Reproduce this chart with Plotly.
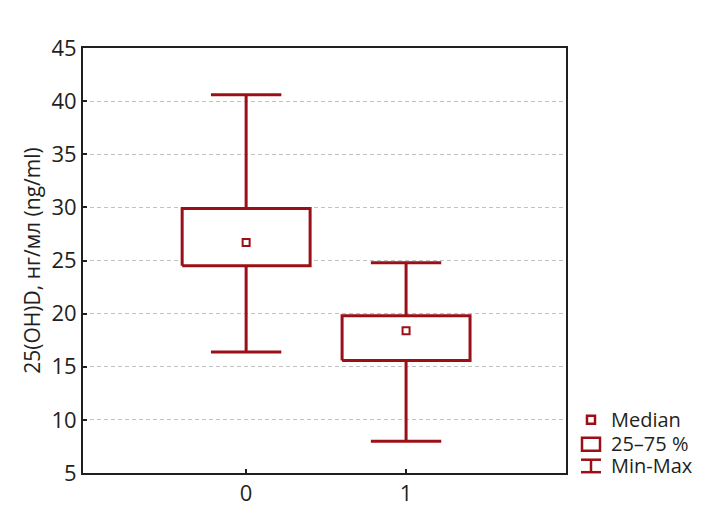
import plotly.graph_objects as go

# ---- data ----
groups = [0, 1]
mins = [16.4, 8.0]
q1s = [24.5, 15.6]
medians = [26.7, 18.4]
q3s = [29.9, 19.8]
maxs = [40.6, 24.8]
y_ticks = [5, 10, 15, 20, 25, 30, 35, 40, 45]
legend_labels = ["Median", "25\u201375 %", "Min-Max"]

RED = "#9b1016"
DARK = "#231f20"
FONT = "Open Sans"

# the page body has an 8px margin
OFF = 8
W, H = 707, 506
L, T = 83 - OFF, 48 - OFF
PW, PH = 483, 425.3
R = W - L - PW
B = H - T - PH

box_w = 0.8
cap_w = 0.44

# Build line paths from the data
bx, by = [], []
wx, wy = [], []
for g, lo, a, b, hi in zip(groups, mins, q1s, q3s, maxs):
    bx += [g - box_w / 2, g + box_w / 2, g + box_w / 2, g - box_w / 2, g - box_w / 2, None]
    by += [a, a, b, b, a, None]
    wx += [g, g, None, g, g, None]
    wy += [b, hi, None, a, lo, None]
    wx += [g - cap_w / 2, g + cap_w / 2, None, g - cap_w / 2, g + cap_w / 2, None]
    wy += [hi, hi, None, lo, lo, None]

fig = go.Figure()
fig.add_trace(go.Scatter(x=wx, y=wy, mode="lines", line=dict(color=RED, width=3),
                         showlegend=False, hoverinfo="skip"))
fig.add_trace(go.Scatter(x=bx, y=by, mode="lines", line=dict(color=RED, width=3),
                         fill="toself", fillcolor="white",
                         showlegend=False, hoverinfo="skip"))
fig.add_trace(go.Scatter(x=groups, y=medians, mode="markers",
                         marker=dict(symbol="square", size=7, color="white",
                                     line=dict(color=RED, width=2)),
                         showlegend=False))

# convert page pixel coordinates to paper coordinates
def px_x(x):
    return (x - OFF - L) / PW

def px_y(y):
    return (T + PH - (y - OFF)) / PH

shapes = []
shapes.append(dict(type="rect", xref="paper", yref="paper",
                   x0=px_x(587), x1=px_x(595), y0=px_y(416), y1=px_y(424),
                   line=dict(color=RED, width=2.5), fillcolor="white"))
shapes.append(dict(type="rect", xref="paper", yref="paper",
                   x0=px_x(582), x1=px_x(600), y0=px_y(438), y1=px_y(451),
                   line=dict(color=RED, width=2.5), fillcolor="white"))
for (x0, y0, x1, y1) in [(581, 460, 601, 460), (581, 472.5, 601, 472.5), (591, 460, 591, 472.5)]:
    shapes.append(dict(type="line", xref="paper", yref="paper",
                       x0=px_x(x0), x1=px_x(x1), y0=px_y(y0), y1=px_y(y1),
                       line=dict(color=RED, width=2.5)))

annotations = []
for lbl, yc in zip(legend_labels, [420, 444, 466]):
    annotations.append(dict(text=lbl, xref="paper", yref="paper", x=px_x(609), y=px_y(yc),
                            xanchor="left", yanchor="middle", showarrow=False,
                            font=dict(family=FONT, size=20, color=DARK)))

fig.update_layout(
    width=W, height=H,
    margin=dict(l=L, r=R, t=T, b=B, autoexpand=False),
    paper_bgcolor="white", plot_bgcolor="white",
    showlegend=False,
    shapes=shapes, annotations=annotations,
    font=dict(family=FONT, size=22, color=DARK),
    xaxis=dict(range=[-1.02, 2.0], tickvals=groups, ticktext=[str(g) for g in groups],
               ticks="inside", ticklen=4, tickwidth=2, tickcolor=DARK,
               showline=True, linewidth=2, linecolor=DARK, mirror=True,
               showgrid=False, zeroline=False, fixedrange=True, automargin=False),
    yaxis=dict(range=[5, 45], tickvals=y_ticks,
               ticks="inside", ticklen=4, tickwidth=2, tickcolor=DARK,
               showline=True, linewidth=2, linecolor=DARK, mirror=True,
               showgrid=True, gridcolor="#c2c2c2", gridwidth=1, griddash="4px,3px",
               zeroline=False, fixedrange=True, automargin=False,
               title=dict(text="25(OH)D, нг/мл (ng/ml)", standoff=5,
                          font=dict(family=FONT, size=21, color=DARK))),
)

fig.write_html("out.html")
